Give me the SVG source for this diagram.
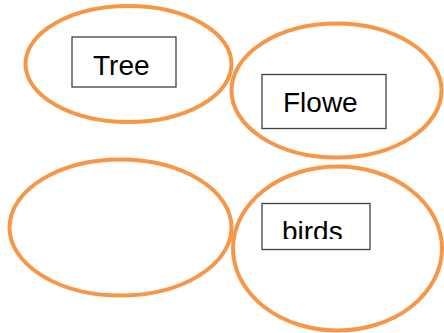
<svg xmlns="http://www.w3.org/2000/svg" width="444" height="333" viewBox="0 0 444 333">
<style>
.oval{fill:none;stroke:#F79646;stroke-width:4}
.box{fill:#fff;stroke:#404040;stroke-width:1.3}
.lbl{font-family:"Liberation Sans",Arial,sans-serif;font-size:28px;fill:#000}
</style>
<defs>
<clipPath id="birdsClip"><rect x="262" y="203" width="108" height="36"/></clipPath>
</defs>
<rect width="444" height="333" fill="#fff"/>
<g id="connectors"></g>
<g id="node-tree">
<ellipse class="oval" cx="128.5" cy="64" rx="103" ry="58"/>
<rect class="box" x="72" y="37" width="104" height="50"/>
<text class="lbl" x="93" y="75">Tree</text>
</g>
<g id="node-flowe">
<ellipse class="oval" cx="336.5" cy="90.5" rx="105" ry="67"/>
<rect class="box" x="262" y="74.5" width="124" height="54"/>
<text class="lbl" x="283" y="112">Flowe</text>
</g>
<g id="node-empty">
<ellipse class="oval" cx="120.5" cy="227.5" rx="111" ry="68"/>
</g>
<g id="node-birds">
<ellipse class="oval" cx="337.5" cy="248.5" rx="104.5" ry="82"/>
<rect class="box" x="262" y="203.5" width="108" height="46"/>
<text class="lbl" x="282" y="241" clip-path="url(#birdsClip)">birds</text>
</g>
</svg>
